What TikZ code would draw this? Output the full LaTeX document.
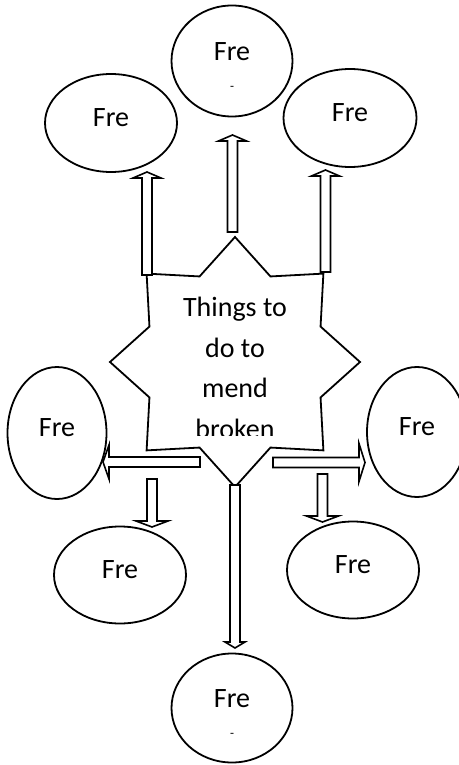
\documentclass[tikz,border=0pt]{standalone}
\usepackage{fontspec}
\setmainfont{Carlito}
\usetikzlibrary{shapes.geometric,calc}

\newcommand{\bigtext}{\fontsize{28}{40.7}\selectfont}

\begin{document}
\begin{tikzpicture}[x=1pt,y=-1pt,line width=1.8pt,
                    hollow/.style={draw,fill=white,line width=1.6pt,line join=miter,
                      to path={let \p1=(\tikztostart), \p2=(\tikztotarget),
                                   \n1={veclen(\x2-\x1,\y2-\y1)},
                                   \n2={atan2(\y2-\y1,\x2-\x1)} in
                        ([rotate around={\n2:(\p1)}]\x1,{\y1-5pt})
                        -- ([rotate around={\n2:(\p1)}]{\x1+\n1-6pt},{\y1-5pt})
                        -- ([rotate around={\n2:(\p1)}]{\x1+\n1-6pt},{\y1-#1pt})
                        -- ([rotate around={\n2:(\p1)}]{\x1+\n1},\y1)
                        -- ([rotate around={\n2:(\p1)}]{\x1+\n1-6pt},{\y1+#1pt})
                        -- ([rotate around={\n2:(\p1)}]{\x1+\n1-6pt},{\y1+5pt})
                        -- ([rotate around={\n2:(\p1)}]\x1,{\y1+5pt}) -- cycle}},
                    hollow/.default=14]
  \tikzstyle{every node}=[font=\bigtext]
  \tikzstyle{bubble}=[ellipse,draw,inner sep=0pt,text depth=10pt]
  \tikzstyle{burst}=[star,star points=8,star point ratio=1.35,draw,
                     minimum size=250pt,inner sep=0pt,line join=miter]
  \tikzstyle{tick}=[font=\fontsize{13}{13}\selectfont,inner sep=0pt]

  \useasboundingbox (0,0) rectangle (458,765);

  % the ideas round the star
  \node[bubble,minimum width=121pt,minimum height=111pt,text depth=18pt] (top) at (232,61)  {Fre};
  \node[bubble,minimum width=132pt,minimum height=98pt]  (tl)  at (111,123) {Fre};
  \node[bubble,minimum width=133pt,minimum height=98pt]  (tr)  at (350,118) {Fre};
  \node[bubble,minimum width=99pt,minimum height=132pt]  (ml)  at (57,433)  {Fre};
  \node[bubble,minimum width=100pt,minimum height=130pt] (mr)  at (417,432) {Fre};
  \node[bubble,minimum width=132pt,minimum height=97pt]  (ll)  at (120,575) {Fre};
  \node[bubble,minimum width=132pt,minimum height=97pt]  (lr)  at (353,570) {Fre};
  \node[bubble,minimum width=121pt,minimum height=109pt,text depth=18pt] (bot) at (232,708) {Fre};
  \node[tick] (toptick) at (232,88)  {-};
  \node[tick] (bottick) at (232,735) {-};

  % the star
  \node[burst] (hub) at (235,362) {};
  \begin{scope}
    \clip (120,250) rectangle (350,435);
    \node[align=center] (hubtext) at (235,368) {Things to\\do to\\mend\\broken};
  \end{scope}

  \coordinate (tlfoot)  at (147,275);   \coordinate (tltip)  at (147,172);
  \coordinate (topfoot) at (232.5,232); \coordinate (toptip) at (232.5,135);
  \coordinate (trfoot)  at (325.5,272); \coordinate (trtip)  at (325.5,170);
  \coordinate (mlfoot)  at (200,462);   \coordinate (mltip)  at (103,462);
  \coordinate (mrfoot)  at (273,462.5); \coordinate (mrtip)  at (365,462.5);
  \coordinate (llfoot)  at (152,479);   \coordinate (lltip)  at (152,527);
  \coordinate (lrfoot)  at (322.5,474); \coordinate (lrtip)  at (322.5,522);
  \coordinate (botfoot) at (235,485);   \coordinate (bottip) at (235,648);

  \path (tlfoot)  edge[hollow]    (tltip)
        (topfoot) edge[hollow]    (toptip)
        (trfoot)  edge[hollow]    (trtip)
        (mlfoot)  edge[hollow=17] (mltip)
        (mrfoot)  edge[hollow=19] (mrtip)
        (llfoot)  edge[hollow=16] (lltip)
        (lrfoot)  edge[hollow=16] (lrtip)
        (botfoot) edge[hollow=10] (bottip);
\end{tikzpicture}
\end{document}
